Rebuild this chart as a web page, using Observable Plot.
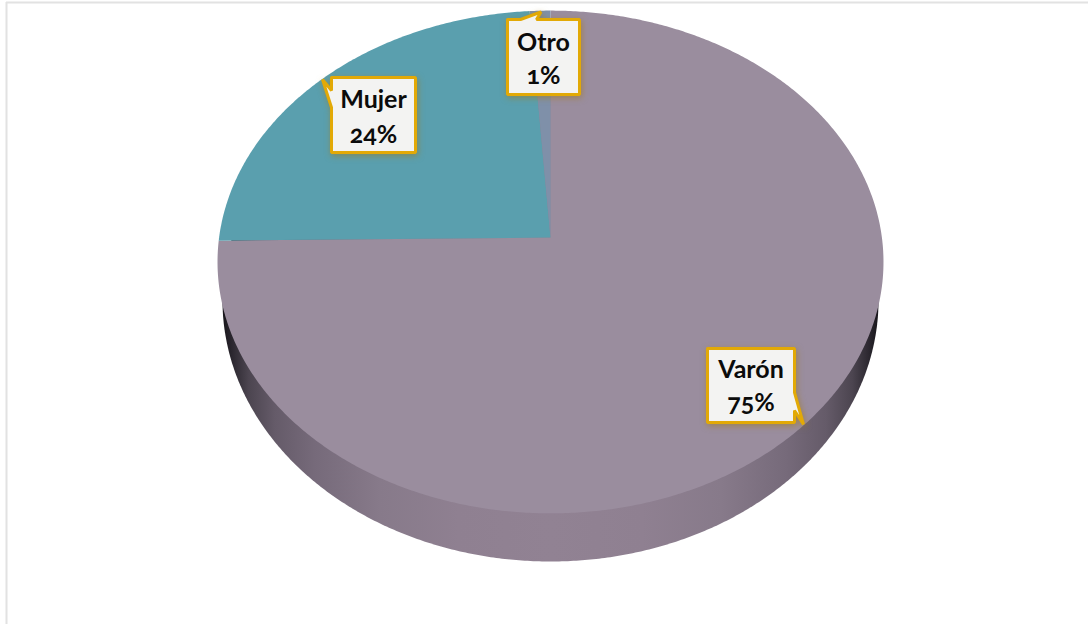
<!DOCTYPE html>
<html>
<head>
<meta charset="utf-8">
<style>
html,body{margin:0;padding:0;background:#fff;}
svg{display:block;}
</style>
<script src="https://cdn.jsdelivr.net/npm/d3@7"></script>
<script src="https://cdn.jsdelivr.net/npm/@observablehq/plot@0.6"></script>
</head>
<body>
<div id="chart"></div>
<script>
// Data: drawn clockwise from 12 o'clock
const categories = ["Varón", "Mujer", "Otro"];
const shares = [74.8, 24.1, 1.1];
const percentLabels = ["75%", "24%", "1%"];

// Styles
const sliceColors = ["#9a8d9e", "#5a9fae", "#7f90a9"];

// Layout of the 3D pie, in page pixels
const W = 1088, H = 624;
const pie = {cx: 550, cy: 237, a: 249, b: 331.4, k: 0.0974};
const wall = {cx: 550, cy: 300, rx: 328, ry: 261};
// Callout layout: box, pointer tip, pointer base on one side of the box
const callouts = [
  {box: [707, 348, 794, 422], tip: [803, 424], side: "right", base: [392, 410], line1: 369, line2: 402},
  {box: [331, 77, 415, 152], tip: [322, 79], side: "left", base: [90, 107], line1: 99, line2: 134},
  {box: [507, 19, 579, 94], tip: [540.5, 11.5], side: "top", base: [520, 536], line1: 42, line2: 75}
];

function rim(theta) {
  const u = Math.sin(theta), v = -Math.cos(theta), d = 1 - pie.k * v;
  return [pie.cx + pie.b * u / d, pie.cy + pie.a * v / d];
}

// Top face slices, from the shares
const total = d3.sum(shares);
const slicePoints = [];
let start = 0;
categories.forEach((name, i) => {
  const end = start + shares[i] / total * 2 * Math.PI;
  const n = Math.max(4, Math.ceil((end - start) * 120));
  slicePoints.push({name, x: pie.cx, y: pie.cy});
  for (let j = 0; j <= n; ++j) {
    const [x, y] = rim(start + (end - start) * j / n);
    slicePoints.push({name, x, y});
  }
  start = end;
});

// Side wall: the lower ellipse seen beneath the top face
const wallPoints = d3.range(0, 721).map(j => {
  const t = j / 720 * 2 * Math.PI;
  return {x: wall.cx + wall.rx * Math.cos(t), y: wall.cy + wall.ry * Math.sin(t)};
});

// Callout outlines
const calloutPoints = [];
callouts.forEach((c, i) => {
  const [x1, y1, x2, y2] = c.box;
  let pts;
  if (c.side === "top") pts = [[x1,y1],[c.base[0],y1],c.tip,[c.base[1],y1],[x2,y1],[x2,y2],[x1,y2],[x1,y1]];
  if (c.side === "left") pts = [[x1,y1],[x2,y1],[x2,y2],[x1,y2],[x1,c.base[1]],c.tip,[x1,c.base[0]],[x1,y1]];
  if (c.side === "right") pts = [[x1,y1],[x2,y1],[x2,c.base[0]],c.tip,[x2,c.base[1]],[x2,y2],[x1,y2],[x1,y1]];
  pts.forEach(([x, y]) => calloutPoints.push({id: categories[i], x, y}));
});

const textRows = callouts.flatMap((c, i) => {
  const x = (c.box[0] + c.box[2]) / 2;
  return [
    {x, y: c.line1, t: categories[i]},
    {x, y: c.line2, t: percentLabels[i]}
  ];
});

const gradient = () => {
  const defs = d3.create("svg:defs");
  const g = defs.append("linearGradient").attr("id", "wallShade")
    .attr("x1", 0).attr("x2", 1).attr("y1", 0).attr("y2", 0);
  [[0,"#17151a"],[0.015,"#2c2830"],[0.04,"#4c4550"],[0.08,"#655b69"],[0.14,"#766a7a"],[0.24,"#877a8a"],[0.36,"#8f8091"],
   [0.5,"#918293"],[0.64,"#8f8091"],[0.76,"#877a8a"],[0.86,"#766a7a"],[0.92,"#655b69"],[0.96,"#4c4550"],[0.985,"#2c2830"],[1,"#17151a"]]
    .forEach(([o, c]) => g.append("stop").attr("offset", o).attr("stop-color", c));
  return defs.node();
};

const plot = Plot.plot({
  width: W, height: H,
  margin: 0,
  x: {domain: [0, W], range: [0, W], axis: null},
  y: {domain: [0, H], range: [0, H], axis: null},
  color: {domain: categories, range: sliceColors},
  style: {background: "#fff"},
  marks: [
    gradient,
    Plot.ruleY([2], {x1: 6, x2: W, stroke: "#e2e2e2", strokeWidth: 2}),
    Plot.ruleX([6], {y1: 2, y2: H, stroke: "#e2e2e2", strokeWidth: 2}),
    Plot.line(wallPoints, {x: "x", y: "y", fill: "url(#wallShade)", stroke: "none", curve: "linear"}),
    Plot.line(slicePoints, {x: "x", y: "y", z: "name", fill: "name", stroke: "none", curve: "linear"}),
    Plot.line(calloutPoints, {
      x: "x", y: "y", z: "id", fill: "#f3f3f2", stroke: "#e2a906", strokeWidth: 3,
      strokeLinejoin: "miter", curve: "linear",
      imageFilter: "drop-shadow(1px 2px 3px rgba(160,120,20,0.55))"
    }),
    Plot.text(textRows, {
      x: "x", y: "y", text: "t", fill: "#0b0b0b",
      fontFamily: "Lato", fontWeight: 700, fontSize: 25, fontVariant: "oldstyle-nums", textAnchor: "middle"
    })
  ]
});
document.getElementById("chart").append(plot);
</script>
</body>
</html>
